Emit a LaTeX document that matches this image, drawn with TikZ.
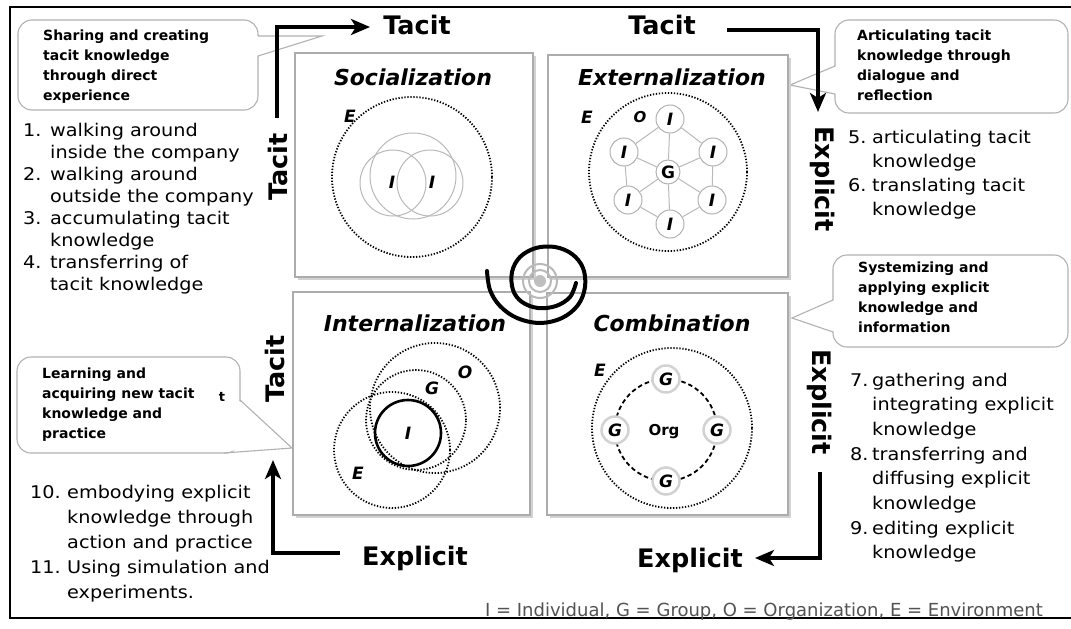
\documentclass[tikz,border=0pt]{standalone}
\usepackage{fontspec}
\setmainfont{DejaVu Sans}
\newfontfamily\listfont[FakeStretch=1.1]{DejaVu Sans}
\usetikzlibrary{arrows.meta,shadows}
\begin{document}
\begin{tikzpicture}[x=1pt,y=-1pt,
  every node/.style={inner sep=0pt},
  quad/.style={draw=gray!65, line width=1.2pt, fill=white, drop shadow={shadow xshift=2.5pt, shadow yshift=-2.5pt, fill=gray!35, opacity=1}},
  title/.style={font=\fontsize{22}{24}\selectfont\bfseries\itshape},
  axislab/.style={font=\fontsize{25.5}{28}\selectfont\bfseries},
  flow/.style={line width=4pt, -{Stealth[length=19pt,width=16pt,inset=5pt]}},
  envc/.style={draw=black, line width=1.8pt, dash pattern=on 1.3pt off 1.7pt},
  thinc/.style={draw=gray!55, line width=1pt},
  lab/.style={font=\fontsize{17}{20}\selectfont\bfseries\itshape},
  inode/.style={circle, draw=gray!60, line width=1pt, fill=white, minimum size=28pt, font=\fontsize{17}{20}\selectfont\bfseries\itshape},
  gnode/.style={circle, draw=gray!35, line width=2.5pt, fill=white, minimum size=27pt, font=\fontsize{17}{20}\selectfont\bfseries\itshape},
  bubble/.style={draw=gray!60, line width=1.1pt, rounded corners=14pt, fill=white},
  ptr/.style={draw=gray!60, line width=1.1pt},
  btext/.style={font=\fontsize{14}{20}\selectfont\bfseries, anchor=base west},
  listtext/.style={anchor=base west},
]
\useasboundingbox (0,0) rectangle (1071,629);
\fill[white] (0,0) rectangle (1071,629);
\draw[line width=1.8pt] (1071,7) -- (10,7) -- (10,618) -- (1071,618);

% ---------- callout bubbles ----------
\node[bubble, minimum width=240pt, minimum height=90pt] (b1) at (138,65) {};
\coordinate (t1) at (322,36);
\fill[white] (256,36) -- (t1) -- (256,56) -- cycle;
\draw[ptr] (258,36) -- (t1) -- (258,56);
\node[btext] (b1t) at (43,40) {\begin{tabular}[t]{@{}l@{}}Sharing and creating\\ tacit knowledge\\ through direct\\ experience\end{tabular}};

\node[bubble, minimum width=233pt, minimum height=93pt] (b2) at (951.5,66.5) {};
\coordinate (t2) at (790,85);
\fill[white] (837,66) -- (t2) -- (837,94) -- cycle;
\draw[ptr] (835,66) -- (t2) -- (835,94);
\node[btext] (b2t) at (857,40) {\begin{tabular}[t]{@{}l@{}}Articulating tacit\\ knowledge through\\ dialogue and\\ reflection\end{tabular}};

\node[bubble, minimum width=235pt, minimum height=92pt] (b3) at (950.5,301) {};
\coordinate (t3) at (792,318);
\fill[white] (835,300) -- (t3) -- (835,332) -- cycle;
\draw[ptr] (833,300) -- (t3) -- (833,332);
\node[btext] (b3t) at (858,272) {\begin{tabular}[t]{@{}l@{}}Systemizing and\\ applying explicit\\ knowledge and\\ information\end{tabular}};

\node[bubble, minimum width=223pt, minimum height=96pt] (b4) at (128.5,405) {};
\coordinate (t4) at (292,448);
\fill[white] (238,400) -- (t4) -- (224,451) -- cycle;
\draw[ptr] (240,400) -- (t4) -- (224,453);
\node[btext] (b4t) at (42,378) {\begin{tabular}[t]{@{}l@{}}Learning and\\ acquiring new tacit\\ knowledge and\\ practice\end{tabular}};
\node[font=\fontsize{13}{16}\selectfont\bfseries] (b4x) at (222,397) {t};

% ---------- quadrant boxes ----------
\node[quad, minimum width=238pt, minimum height=224pt] (soc) at (414,165) {};
\node[quad, minimum width=240pt, minimum height=222pt] (ext) at (668,166) {};
\node[quad, minimum width=237pt, minimum height=223pt] (int) at (411.5,403.5) {};
\node[quad, minimum width=241pt, minimum height=222pt] (com) at (667.5,404) {};

\node[title] (socT) at (413,77) {Socialization};
\node[title] (extT) at (672,77) {Externalization};
\node[title] (intT) at (415,323) {Internalization};
\node[title] (comT) at (672,323) {Combination};

% ---------- Socialization ----------
\draw[envc] (412,177) circle (80pt);
\draw[thinc] (413,176) circle (43pt);
\draw[thinc] (393,183) circle (33pt);
\draw[thinc] (430,183) circle (33pt);
\node[lab] (sE) at (350,116) {E};
\node[lab] (sI1) at (392,182) {I};
\node[lab] (sI2) at (432,182) {I};

% ---------- Externalization ----------
\draw[envc] (668,172) circle (79pt);
\node[inode, minimum size=24pt, font=\fontsize{17}{20}\selectfont\bfseries] (eG) at (668,172) {G};
\node[inode] (eI1) at (670,119) {I};
\node[inode] (eI2) at (713,152) {I};
\node[inode] (eI3) at (712,200) {I};
\node[inode] (eI4) at (670,224) {I};
\node[inode] (eI5) at (628,200) {I};
\node[inode] (eI6) at (624,152) {I};
\foreach \i in {1,...,6} {\draw[thinc] (eG) -- (eI\i);}
\draw[thinc] (eI1) -- (eI2) -- (eI3) -- (eI4) -- (eI5) -- (eI6) -- (eI1);
\node[lab] (eE) at (587,117) {E};
\node[lab, font=\fontsize{15}{18}\selectfont\bfseries\itshape] (eO) at (640,117) {O};

% ---------- Internalization ----------
\draw[envc] (392,450) circle (58pt);
\draw[envc] (435,408) circle (65pt);
\draw[envc] (416,420) circle (50pt);
\draw[line width=2.6pt] (408,433) circle (33pt);
\node[lab] (iI) at (408,433) {I};
\node[lab] (iG) at (432,388) {G};
\node[lab] (iO) at (465,372) {O};
\node[lab] (iE) at (358,473) {E};

% ---------- Combination ----------
\draw[envc] (672,428) circle (80pt);
\draw[line width=1.8pt, dash pattern=on 4.5pt off 3pt] (666,430) circle (51pt);
\node[gnode] (cG1) at (666,379) {G};
\node[gnode] (cG2) at (717,430) {G};
\node[gnode] (cG3) at (666,481) {G};
\node[gnode] (cG4) at (615,430) {G};
\node[font=\fontsize{15}{18}\selectfont\bfseries] (cOrg) at (664,432) {Org};
\node[lab] (cE) at (600,370) {E};

% ---------- central spiral ----------
\draw[gray!55, line width=2pt] (540,281) circle (17pt);
\draw[gray!55, line width=2pt] (540,281) circle (11pt);
\fill[gray!50] (540,281) circle (6pt);
\draw[line width=4pt, line cap=round] plot[smooth, tension=0.6] coordinates {(487,271) (490,290) (500,306) (517,318) (540,323) (562,318) (578,305) (585,287) (583,268) (572,254) (555,247) (536,248) (520,257) (512,272) (513,290) (522,302) (538,308) (556,306) (570,297) (576,283)};

% ---------- axis labels and arrows ----------
\node[axislab] (tacitA) at (417,25) {Tacit};
\node[axislab] (tacitB) at (662,25) {Tacit};
\node[axislab, rotate=90] (tacitL1) at (278,167) {Tacit};
\node[axislab, rotate=90] (tacitL2) at (275,369) {Tacit};
\node[axislab, rotate=-90] (explR1) at (823,179) {Explicit};
\node[axislab, rotate=-90] (explR2) at (820,402) {Explicit};
\node[axislab] (explB1) at (415,558) {Explicit};
\node[axislab] (explB2) at (690,560) {Explicit};

\coordinate (a1s) at (277,118);
\coordinate (a1e) at (370,27);
\draw[flow] (a1s) |- (a1e);
\coordinate (a2s) at (727,30);
\coordinate (a2e) at (818,112);
\draw[flow] (a2s) -| (a2e);
\coordinate (a3s) at (820,472);
\coordinate (a3e) at (755,558);
\draw[flow] (a3s) |- (a3e);
\coordinate (a4s) at (340,553);
\coordinate (a4e) at (273,460);
\draw[flow] (a4s) -| (a4e);

% ---------- lists ----------
\node[listtext, font=\listfont\fontsize{17.5}{22}\selectfont] (L1) at (23,136) {\begin{tabular}[t]{@{}p{27pt}@{}l@{}}1. & walking around\\ & inside the company\\ 2. & walking around\\ & outside the company\\ 3. & accumulating tacit\\ & knowledge\\ 4. & transferring of\\ & tacit knowledge\end{tabular}};

\node[listtext, font=\listfont\fontsize{17.5}{24}\selectfont] (L2) at (848,143) {\begin{tabular}[t]{@{}p{24pt}@{}l@{}}5. & articulating tacit\\ & knowledge\\ 6. & translating tacit\\ & knowledge\end{tabular}};

\node[listtext, font=\listfont\fontsize{17.5}{24.7}\selectfont] (L3) at (850,386) {\begin{tabular}[t]{@{}p{22pt}@{}l@{}}7. & gathering and\\ & integrating explicit\\ & knowledge\\ 8. & transferring and\\ & diffusing explicit\\ & knowledge\\ 9. & editing explicit\\ & knowledge\end{tabular}};

\node[listtext, font=\listfont\fontsize{17.5}{25}\selectfont] (L4) at (30,498) {\begin{tabular}[t]{@{}p{37pt}@{}l@{}}10. & embodying explicit\\ & knowledge through\\ & action and practice\\ 11. & Using simulation and\\ & experiments.\end{tabular}};

% ---------- legend ----------
\node[anchor=base east, text=gray!65!black, font=\fontsize{18}{20}\selectfont] (legend) at (1043,616) {I = Individual, G = Group, O = Organization, E = Environment};
\end{tikzpicture}
\end{document}
